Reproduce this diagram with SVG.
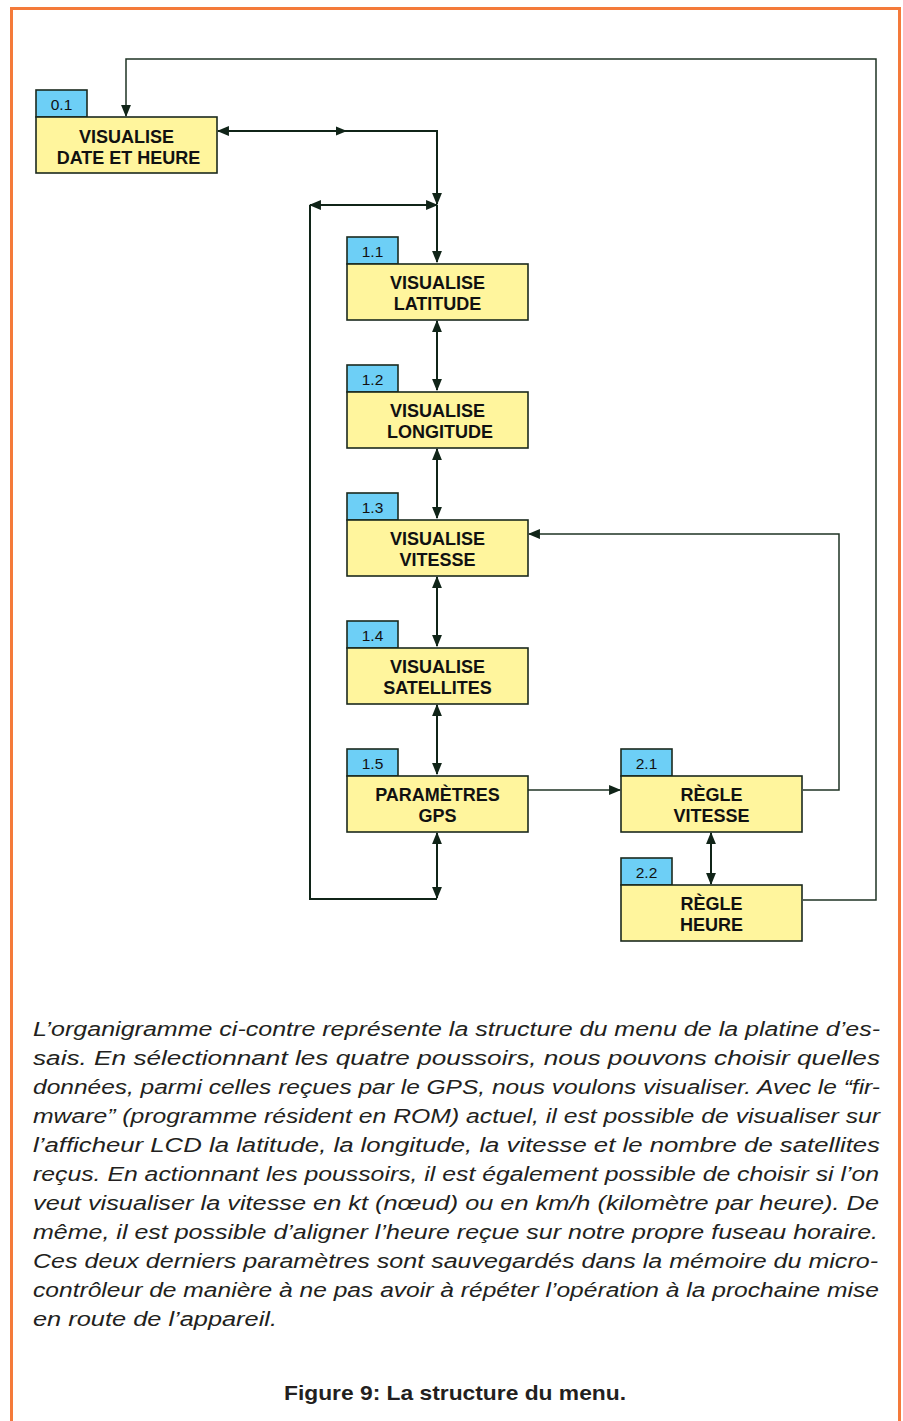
<svg xmlns="http://www.w3.org/2000/svg" width="903" height="1421" viewBox="0 0 903 1421">
<style>
.box{fill:#fff59d;stroke:#1b2a1e;stroke-width:1.6}
.tab{fill:#6dcff6;stroke:#1b2a1e;stroke-width:1.6}
.lbl{font-family:"Liberation Sans",Arial,sans-serif;font-weight:bold;font-size:18px;fill:#111;text-anchor:middle}
.num{font-family:"Liberation Sans",Arial,sans-serif;font-size:15.5px;fill:#111;text-anchor:middle}
.con{fill:none;stroke:#102418;stroke-width:2}
.thin{fill:none;stroke:#1f3324;stroke-width:1.5}
.body{font-family:"Liberation Sans",Arial,sans-serif;font-style:italic;font-size:20px;fill:#231f20}
.cap{font-family:"Liberation Sans",Arial,sans-serif;font-weight:bold;font-size:21px;fill:#231f20}
</style>
<defs>
<marker id="ah" markerUnits="userSpaceOnUse" markerWidth="12" markerHeight="10" refX="10" refY="4.5" orient="auto-start-reverse" viewBox="0 0 11 9">
<path d="M0,0 L11,4.5 L0,9 z" fill="#102418"/>
</marker>
</defs>
<path d="M11.5,1421 V8.5 H899.5 V1421" fill="none" stroke="#f47a3a" stroke-width="3"/>

<g id="connectors">
<path class="thin" d="M803,900 H876 V59 H126 V116" marker-end="url(#ah)"/>
<path class="con" d="M218,131 H437 V204" marker-start="url(#ah)" marker-end="url(#ah)"/>
<path d="M336,126.5 L347,131 L336,135.5 z" fill="#102418"/>
<path class="con" d="M310,205 H437" marker-start="url(#ah)" marker-end="url(#ah)"/>
<path class="con" d="M437,205 V262" marker-end="url(#ah)"/>
<path class="con" d="M437,321 V390" marker-start="url(#ah)" marker-end="url(#ah)"/>
<path class="con" d="M437,449 V518" marker-start="url(#ah)" marker-end="url(#ah)"/>
<path class="con" d="M437,577 V646" marker-start="url(#ah)" marker-end="url(#ah)"/>
<path class="con" d="M437,705 V774" marker-start="url(#ah)" marker-end="url(#ah)"/>
<path class="con" d="M437,833 V898" marker-start="url(#ah)" marker-end="url(#ah)"/>
<path class="con" d="M437,899 H310 V205"/>
<path class="thin" d="M528,790 H620" marker-end="url(#ah)"/>
<path class="thin" d="M803,790 H839 V534 H529" marker-end="url(#ah)"/>
<path class="con" d="M711,833 V884" marker-start="url(#ah)" marker-end="url(#ah)"/>
</g>

<g id="n01">
<rect class="tab" x="36" y="90" width="51" height="27"/>
<text class="num" x="61.5" y="109.5">0.1</text>
<rect class="box" x="36" y="117" width="181" height="56"/>
<text class="lbl" x="126.5" y="143">VISUALISE</text>
<text class="lbl" x="128.5" y="163.5">DATE ET HEURE</text>
</g>

<g id="n11">
<rect class="tab" x="347" y="237" width="51" height="27"/>
<text class="num" x="372.5" y="256.5">1.1</text>
<rect class="box" x="347" y="264" width="181" height="56"/>
<text class="lbl" x="437.5" y="289">VISUALISE</text>
<text class="lbl" x="437.5" y="309.5">LATITUDE</text>
</g>

<g id="n12">
<rect class="tab" x="347" y="365" width="51" height="27"/>
<text class="num" x="372.5" y="384.5">1.2</text>
<rect class="box" x="347" y="392" width="181" height="56"/>
<text class="lbl" x="437.5" y="417">VISUALISE</text>
<text class="lbl" x="440" y="437.5">LONGITUDE</text>
</g>

<g id="n13">
<rect class="tab" x="347" y="493" width="51" height="27"/>
<text class="num" x="372.5" y="512.5">1.3</text>
<rect class="box" x="347" y="520" width="181" height="56"/>
<text class="lbl" x="437.5" y="545">VISUALISE</text>
<text class="lbl" x="437.5" y="565.5">VITESSE</text>
</g>

<g id="n14">
<rect class="tab" x="347" y="621" width="51" height="27"/>
<text class="num" x="372.5" y="640.5">1.4</text>
<rect class="box" x="347" y="648" width="181" height="56"/>
<text class="lbl" x="437.5" y="673">VISUALISE</text>
<text class="lbl" x="437.5" y="693.5">SATELLITES</text>
</g>

<g id="n15">
<rect class="tab" x="347" y="749" width="51" height="27"/>
<text class="num" x="372.5" y="768.5">1.5</text>
<rect class="box" x="347" y="776" width="181" height="56"/>
<text class="lbl" x="437.5" y="801">PARAMÈTRES</text>
<text class="lbl" x="437.5" y="821.5">GPS</text>
</g>

<g id="n21">
<rect class="tab" x="621" y="749" width="51" height="27"/>
<text class="num" x="646.5" y="768.5">2.1</text>
<rect class="box" x="621" y="776" width="181" height="56"/>
<text class="lbl" x="711.5" y="801">RÈGLE</text>
<text class="lbl" x="711.5" y="821.5">VITESSE</text>
</g>

<g id="n22">
<rect class="tab" x="621" y="858" width="51" height="27"/>
<text class="num" x="646.5" y="877.5">2.2</text>
<rect class="box" x="621" y="885" width="181" height="56"/>
<text class="lbl" x="711.5" y="910">RÈGLE</text>
<text class="lbl" x="711.5" y="930.5">HEURE</text>
</g>

<g id="text">
<text class="body" x="33" y="1036" textLength="847" lengthAdjust="spacingAndGlyphs">L’organigramme ci-contre représente la structure du menu de la platine d’es-</text>
<text class="body" x="33" y="1065" textLength="847" lengthAdjust="spacingAndGlyphs">sais. En sélectionnant les quatre poussoirs, nous pouvons choisir quelles</text>
<text class="body" x="33" y="1094" textLength="847" lengthAdjust="spacingAndGlyphs">données, parmi celles reçues par le GPS, nous voulons visualiser. Avec le “fir-</text>
<text class="body" x="33" y="1123" textLength="847" lengthAdjust="spacingAndGlyphs">mware” (programme résident en ROM) actuel, il est possible de visualiser sur</text>
<text class="body" x="33" y="1152" textLength="847" lengthAdjust="spacingAndGlyphs">l’afficheur LCD la latitude, la longitude, la vitesse et le nombre de satellites</text>
<text class="body" x="33" y="1181" textLength="846" lengthAdjust="spacingAndGlyphs">reçus. En actionnant les poussoirs, il est également possible de choisir si l’on</text>
<text class="body" x="33" y="1210" textLength="846" lengthAdjust="spacingAndGlyphs">veut visualiser la vitesse en kt (nœud) ou en km/h (kilomètre par heure). De</text>
<text class="body" x="33" y="1239" textLength="845" lengthAdjust="spacingAndGlyphs">même, il est possible d’aligner l’heure reçue sur notre propre fuseau horaire.</text>
<text class="body" x="33" y="1268" textLength="845" lengthAdjust="spacingAndGlyphs">Ces deux derniers paramètres sont sauvegardés dans la mémoire du micro-</text>
<text class="body" x="33" y="1297" textLength="846" lengthAdjust="spacingAndGlyphs">contrôleur de manière à ne pas avoir à répéter l’opération à la prochaine mise</text>
<text class="body" x="33" y="1326" textLength="244" lengthAdjust="spacingAndGlyphs">en route de l’appareil.</text>
<text class="cap" x="284" y="1400" textLength="342" lengthAdjust="spacingAndGlyphs">Figure 9: La structure du menu.</text>
</g>
</svg>
